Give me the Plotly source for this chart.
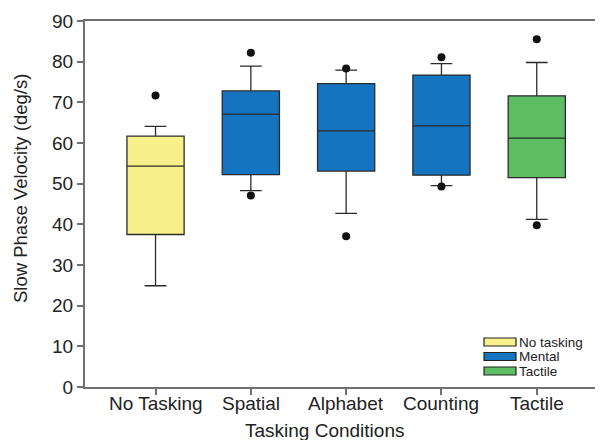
import plotly.graph_objects as go

# ---- data ----
categories = ["No Tasking", "Spatial", "Alphabet", "Counting", "Tactile"]
groups = ["No tasking", "Mental", "Mental", "Mental", "Tactile"]
q1 = [37.5, 52.2, 53.1, 52.1, 51.5]
median = [54.3, 67.1, 63.0, 64.2, 61.2]
q3 = [61.7, 72.8, 74.6, 76.7, 71.6]
lower = [24.9, 48.3, 42.7, 49.5, 41.2]
upper = [64.1, 78.9, 77.9, 79.5, 79.8]
outlier_x = ["No Tasking", "Spatial", "Spatial", "Alphabet", "Alphabet", "Counting", "Counting", "Tactile", "Tactile"]
outlier_y = [71.7, 82.2, 47.1, 78.3, 37.1, 81.1, 49.3, 85.5, 39.8]
legend_names = ["No tasking", "Mental", "Tactile"]
colors = {"No tasking": "#F8F08A", "Mental": "#1474C0", "Tactile": "#5CBD63"}

# page offset (default body margin) compensation
OFF = 8
W, H = 603, 440
L = 85 - OFF
T = 21 - OFF
R = W - (603 - OFF)
B = H - (387 - OFF)
pw, ph = W - L - R, H - T - B

def px_x(p):
    return (p - OFF - L) / pw

def px_y(p):
    return (H - B - (p - OFF)) / ph

FONT = "Arial, Liberation Sans, sans-serif"
TXT = "#222222"

fig = go.Figure()
for i, c in enumerate(categories):
    fig.add_trace(go.Box(
        x=[c], q1=[q1[i]], median=[median[i]], q3=[q3[i]],
        lowerfence=[lower[i]], upperfence=[upper[i]],
        fillcolor=colors[groups[i]],
        line=dict(color="#2b2b2b", width=1.3),
        width=0.6, whiskerwidth=0.38, boxpoints=False,
        showlegend=False, hoverinfo="skip",
    ))

fig.add_trace(go.Scatter(
    x=outlier_x, y=outlier_y, mode="markers",
    marker=dict(color="#111111", size=8), showlegend=False, cliponaxis=False,
))

# x tick labels as annotations (closer to the axis, as in the reference)
for c in categories:
    fig.add_annotation(xref="x", yref="paper", x=c, y=px_y(403),
                       text=c, showarrow=False, xanchor="center", yanchor="middle",
                       font=dict(family=FONT, size=19, color=TXT))

# custom legend
rows = [342, 356.5, 371]
for name, yc in zip(legend_names, rows):
    fig.add_shape(type="rect", xref="paper", yref="paper",
                  x0=px_x(484), x1=px_x(516), y0=px_y(yc + 4), y1=px_y(yc - 4),
                  fillcolor=colors[name], line=dict(color="#222222", width=1.2))
    fig.add_annotation(xref="paper", yref="paper", x=px_x(517), y=px_y(yc),
                       text=name, showarrow=False, xanchor="left", yanchor="middle",
                       font=dict(family=FONT, size=13.5, color=TXT))

fig.add_annotation(xref="paper", yref="paper", x=px_x(324.5), y=px_y(430),
                   text="Tasking Conditions", showarrow=False,
                   xanchor="center", yanchor="middle",
                   font=dict(family=FONT, size=19, color=TXT))
fig.add_annotation(xref="paper", yref="paper", x=px_x(21), y=px_y(189),
                   text="Slow Phase Velocity (deg/s)", showarrow=False, textangle=-90,
                   xanchor="center", yanchor="middle",
                   font=dict(family=FONT, size=18.5, color=TXT))

fig.update_layout(
    width=W, height=H,
    margin=dict(l=L, r=R, t=T, b=B, autoexpand=False),
    paper_bgcolor="white", plot_bgcolor="white",
    boxmode="overlay",
    font=dict(family=FONT, size=18, color=TXT),
    xaxis=dict(
        type="category", categoryorder="array", categoryarray=categories,
        range=[-0.74, 4.695], showgrid=False, zeroline=False,
        showline=True, linecolor="#707070", linewidth=2, mirror=True,
        ticks="outside", ticklen=6, tickcolor="#707070", tickwidth=1.5,
        showticklabels=False,
    ),
    yaxis=dict(
        range=[0, 90], dtick=10, showgrid=False, zeroline=False,
        showline=True, linecolor="#707070", linewidth=2,
        ticks="outside", ticklen=6, tickcolor="#707070", tickwidth=1.5,
        tickfont=dict(family=FONT, size=19, color=TXT),
    ),
)

fig.write_html("out.html")
